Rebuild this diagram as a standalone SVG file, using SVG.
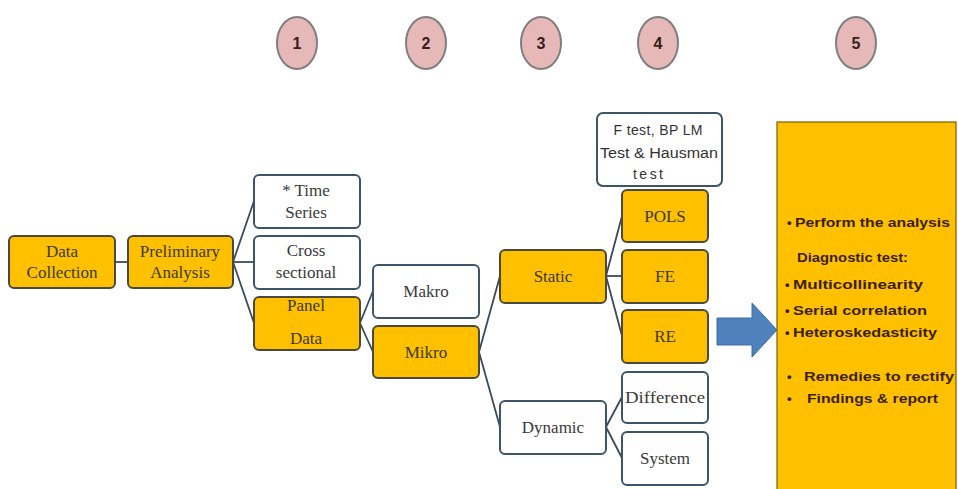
<svg xmlns="http://www.w3.org/2000/svg" width="958" height="489" viewBox="0 0 958 489">
  <style>
    .orange { fill: #FFC000; stroke: #4a4a3c; stroke-width: 2; }
    .white { fill: #ffffff; stroke: #3e5468; stroke-width: 2; }
    .step { fill: #E6B9B8; stroke: #7f7f7f; stroke-width: 2; }
    .lbl { font-family: "Liberation Serif", "Times New Roman", serif; font-size: 17px; text-anchor: middle; }
    .lbl-o { fill: #3b3b22; }
    .lbl-w { fill: #3a3a3a; }
    .num { font-family: "Liberation Sans", Arial, sans-serif; font-size: 16px; font-weight: bold; fill: #3a1e1e; text-anchor: middle; }
    .sans { font-family: "Liberation Sans", Arial, sans-serif; font-size: 14px; fill: #333333; text-anchor: middle; }
    .note { font-family: "Liberation Sans", Arial, sans-serif; font-size: 13px; font-weight: bold; fill: #3a1f00; }
    .conn { stroke: #3b4a5a; stroke-width: 1.8; fill: none; }
  </style>

  <rect width="958" height="489" fill="#ffffff"/>

  <!-- step markers -->
  <g id="step-1"><ellipse class="step" cx="297" cy="43" rx="20" ry="26"/><text class="num" x="297" y="49">1</text></g>
  <g id="step-2"><ellipse class="step" cx="426" cy="43" rx="20" ry="26"/><text class="num" x="426" y="49">2</text></g>
  <g id="step-3"><ellipse class="step" cx="541" cy="43" rx="20" ry="26"/><text class="num" x="541" y="49">3</text></g>
  <g id="step-4"><ellipse class="step" cx="658" cy="43" rx="20" ry="26"/><text class="num" x="658" y="49">4</text></g>
  <g id="step-5"><ellipse class="step" cx="856" cy="43" rx="20" ry="26"/><text class="num" x="856" y="49">5</text></g>

  <!-- connectors -->
  <g id="connectors">
    <line class="conn" x1="115" y1="262" x2="128" y2="262"/>
    <line class="conn" x1="233" y1="262" x2="254" y2="201"/>
    <line class="conn" x1="233" y1="262" x2="254" y2="262"/>
    <line class="conn" x1="233" y1="262" x2="254" y2="323"/>
    <line class="conn" x1="360" y1="323" x2="373" y2="291"/>
    <line class="conn" x1="360" y1="323" x2="373" y2="352"/>
    <line class="conn" x1="479" y1="352" x2="500" y2="276"/>
    <line class="conn" x1="479" y1="352" x2="500" y2="427"/>
    <line class="conn" x1="606" y1="276" x2="622" y2="216"/>
    <line class="conn" x1="606" y1="276" x2="622" y2="276"/>
    <line class="conn" x1="606" y1="276" x2="622" y2="336"/>
    <line class="conn" x1="606" y1="427" x2="622" y2="397"/>
    <line class="conn" x1="606" y1="427" x2="622" y2="458"/>
  </g>

  <!-- column 0 -->
  <g id="data-collection">
    <rect class="orange" x="9" y="236" width="106" height="52" rx="5"/>
    <text class="lbl lbl-o" x="62" y="257">Data</text>
    <text class="lbl lbl-o" x="62" y="278">Collection</text>
  </g>
  <g id="preliminary-analysis">
    <rect class="orange" x="128" y="236" width="105" height="52" rx="5"/>
    <text class="lbl lbl-o" x="180" y="257">Preliminary</text>
    <text class="lbl lbl-o" x="180" y="278">Analysis</text>
  </g>

  <!-- data types -->
  <g id="time-series">
    <rect class="white" x="254" y="175" width="106" height="53" rx="5"/>
    <text class="lbl lbl-w" x="306" y="196">* Time</text>
    <text class="lbl lbl-w" x="306" y="218">Series</text>
  </g>
  <g id="cross-sectional">
    <rect class="white" x="254" y="236" width="106" height="53" rx="5"/>
    <text class="lbl lbl-w" x="306" y="256">Cross</text>
    <text class="lbl lbl-w" x="306" y="278">sectional</text>
  </g>
  <g id="panel-data">
    <rect class="orange" x="254" y="297" width="106" height="53" rx="5"/>
    <text class="lbl lbl-o" x="306" y="311">Panel</text>
    <text class="lbl lbl-o" x="306" y="344">Data</text>
  </g>

  <!-- panel level -->
  <g id="makro">
    <rect class="white" x="373" y="265" width="106" height="53" rx="5"/>
    <text class="lbl lbl-w" x="426" y="297">Makro</text>
  </g>
  <g id="mikro">
    <rect class="orange" x="373" y="326" width="106" height="52" rx="5"/>
    <text class="lbl lbl-o" x="426" y="358">Mikro</text>
  </g>

  <!-- model type -->
  <g id="static">
    <rect class="orange" x="500" y="250" width="106" height="53" rx="5"/>
    <text class="lbl lbl-o" x="553" y="282">Static</text>
  </g>
  <g id="dynamic">
    <rect class="white" x="500" y="401" width="106" height="53" rx="5"/>
    <text class="lbl lbl-w" x="553" y="433">Dynamic</text>
  </g>

  <!-- estimators -->
  <g id="tests">
    <rect class="white" x="597" y="113" width="125" height="73" rx="6"/>
    <text class="sans" x="658" y="135" textLength="89" lengthAdjust="spacing">F test, BP LM</text>
    <text class="sans" x="659" y="158" textLength="118" lengthAdjust="spacingAndGlyphs">Test &amp; Hausman</text>
    <text class="sans" x="648" y="179" textLength="30" lengthAdjust="spacing">test</text>
  </g>
  <g id="pols">
    <rect class="orange" x="622" y="190" width="86" height="52" rx="5"/>
    <text class="lbl lbl-o" x="665" y="222">POLS</text>
  </g>
  <g id="fe">
    <rect class="orange" x="622" y="250" width="86" height="53" rx="5"/>
    <text class="lbl lbl-o" x="665" y="282">FE</text>
  </g>
  <g id="re">
    <rect class="orange" x="622" y="310" width="86" height="53" rx="5"/>
    <text class="lbl lbl-o" x="665" y="342">RE</text>
  </g>
  <g id="difference">
    <rect class="white" x="622" y="372" width="86" height="51" rx="5"/>
    <text class="lbl lbl-w" x="665" y="403" textLength="80" lengthAdjust="spacingAndGlyphs">Difference</text>
  </g>
  <g id="system">
    <rect class="white" x="622" y="432" width="86" height="53" rx="5"/>
    <text class="lbl lbl-w" x="665" y="464">System</text>
  </g>

  <!-- block arrow -->
  <g id="arrow">
    <polygon points="717,318 752,318 752,303 777,330 752,357 752,345 717,345" fill="#4F81BD" stroke="#3f6ea6" stroke-width="1"/>
  </g>

  <!-- analysis panel -->
  <g id="analysis">
    <rect x="777" y="122" width="179" height="370" fill="#FFC000" stroke="#7a5c00" stroke-width="1.2"/>
    <text class="note" x="787" y="227">•<tspan x="795" textLength="155" lengthAdjust="spacingAndGlyphs">Perform the analysis</tspan></text>
    <text class="note" x="797" y="262" textLength="111" lengthAdjust="spacingAndGlyphs">Diagnostic test:</text>
    <text class="note" x="785" y="289">•<tspan x="793" textLength="130" lengthAdjust="spacingAndGlyphs">Multicollinearity</tspan></text>
    <text class="note" x="785" y="315">•<tspan x="793" textLength="134" lengthAdjust="spacingAndGlyphs">Serial correlation</tspan></text>
    <text class="note" x="785" y="337">•<tspan x="793" textLength="144" lengthAdjust="spacingAndGlyphs">Heteroskedasticity</tspan></text>
    <text class="note" x="787" y="381">•<tspan x="804" textLength="150" lengthAdjust="spacingAndGlyphs">Remedies to rectify</tspan></text>
    <text class="note" x="787" y="403">•<tspan x="807" textLength="131" lengthAdjust="spacingAndGlyphs">Findings &amp; report</tspan></text>
  </g>
</svg>
